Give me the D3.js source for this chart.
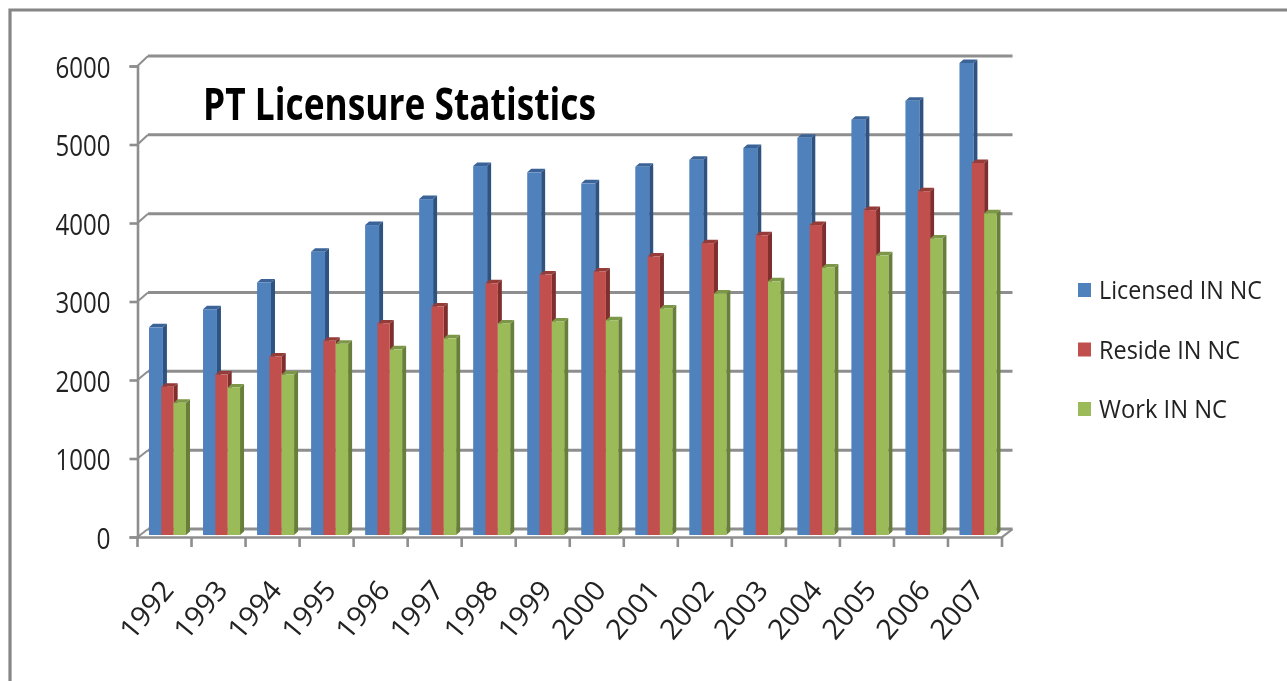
<!DOCTYPE html>
<html>
<head>
<meta charset="utf-8">
<style>
  html, body { margin: 0; padding: 0; background: #fff; overflow: hidden; }
  text { font-family: "Open Sans", sans-serif; fill: #222; }
</style>
<script src="https://cdn.jsdelivr.net/npm/d3@7"></script>
</head>
<body>
<script>
const WIDTH = 1287;
const HEIGHT = 681;

const anios = ["1992", "1993", "1994", "1995", "1996", "1997", "1998", "1999", "2000", "2001", "2002", "2003", "2004", "2005", "2006", "2007"];
const licensed = [2640, 2870, 3210, 3600, 3940, 4270, 4690, 4610, 4470, 4680, 4770, 4920, 5050, 5280, 5520, 6000];
const reside = [1885, 2040, 2270, 2470, 2690, 2905, 3200, 3310, 3350, 3540, 3710, 3810, 3940, 4130, 4370, 4730];
const work = [1680, 1875, 2040, 2430, 2360, 2500, 2690, 2715, 2730, 2880, 3070, 3225, 3400, 3555, 3770, 4090];
const serieNombres = ["Licensed IN NC", "Reside IN NC", "Work IN NC"];
const serieValores = [licensed, reside, work];
const colores = ["#4f81bd", "#c0504d", "#9bbb59"];
const coloresLado = ["#2f5381", "#7f2f2d", "#687f3a"];
const coloresTapa = ["#3a6398", "#953b39", "#7c9746"];
const ticksY = [0, 1000, 2000, 3000, 4000, 5000, 6000];

const SVG = d3
  .select("body")
  .append("svg")
  .attr("width", WIDTH)
  .attr("height", HEIGHT)
  .style("display", "block");

// el original viene reescalado y se ve algo borroso
SVG.append("filter")
  .attr("id", "borroso")
  .append("feGaussianBlur")
  .attr("stdDeviation", 0.6);

// marco gris del grafico
SVG.append("path")
  .attr("d", "M10,681V10H1287")
  .attr("fill", "none")
  .attr("stroke", "#868686")
  .attr("stroke-width", 3.2);

const x = d3.scaleBand().domain(anios).range([137.5, 1002]);
const xSerie = d3.scaleBand().domain(serieNombres).range([11.5, 48.5]);

const yFrente = d3.scaleLinear().domain([0, 6000]).range([537, 66]);
const yFondo = d3.scaleLinear().domain([0, 6000]).range([529, 56]);
const yBarra = d3.scaleLinear().domain([0, 6000]).range([535, 63]);

const PROF_X = 10.5; // profundidad de la caja
const PROF_BARRA_X = 4;
const PROF_BARRA_Y = 3.5;

const grafico = SVG.append("g").attr("filter", "url(#borroso)");
const textos = SVG.append("g").attr("filter", "url(#borroso)");

// lineas del fondo
const caja = grafico.append("g")
  .attr("stroke", "#8e8e8e")
  .attr("fill", "none");

caja.selectAll("line.fondo")
  .data(ticksY)
  .join("line")
  .attr("class", "fondo")
  .attr("x1", 137.5 + PROF_X)
  .attr("x2", 1002 + PROF_X)
  .attr("y1", (d) => yFondo(d))
  .attr("y2", (d) => yFondo(d))
  .attr("stroke-width", 3);

caja.selectAll("line.pared")
  .data(ticksY)
  .join("line")
  .attr("class", "pared")
  .attr("x1", 137.5)
  .attr("x2", 137.5 + PROF_X)
  .attr("y1", (d) => yFrente(d))
  .attr("y2", (d) => yFondo(d))
  .attr("stroke-width", 2);

caja.append("line")
  .attr("x1", 1002)
  .attr("x2", 1002 + PROF_X)
  .attr("y1", yFrente(0))
  .attr("y2", yFondo(0))
  .attr("stroke-width", 2.2);

// ejes del frente
const ejeY = grafico.append("g")
  .attr("transform", "translate(137.5,0)")
  .call(d3.axisLeft(yFrente).tickValues(ticksY).tickSize(8).tickPadding(19).tickFormat(d3.format("d")));

ejeY.selectAll("text")
  .attr("y", 2)
  .attr("font-size", 29)
  .attr("textLength", (d) => (d === 0 ? 14 : 55))
  .attr("lengthAdjust", "spacingAndGlyphs")
  .style("fill", "#222");

const ejeX = grafico.append("g")
  .attr("transform", `translate(0,${yFrente(0)})`)
  .call(d3.axisBottom(x).tickSize(0).tickFormat(""));

ejeX.selectAll("line.corte")
  .data(anios.concat("fin"))
  .join("line")
  .attr("class", "corte")
  .attr("x1", (d) => (d === "fin" ? x.range()[1] : x(d)))
  .attr("x2", (d) => (d === "fin" ? x.range()[1] : x(d)))
  .attr("y1", 0)
  .attr("y2", 10);

[ejeY, ejeX].forEach((eje) => {
  eje.selectAll("path, line")
    .attr("stroke", "#8e8e8e")
    .attr("stroke-width", 2.6);
});

// barras: frente, lado y tapa
const filas = anios.flatMap((anio, i) =>
  serieNombres.map((nombre, s) => ({ anio, nombre, s, valor: serieValores[s][i] }))
);

const barras = grafico.append("g")
  .selectAll("g")
  .data(filas)
  .join("g")
  .attr("transform", (d) => `translate(${x(d.anio) + xSerie(d.nombre)},0)`);

// la azul es un poco mas ancha que las otras dos
const ancho = (d) => xSerie.bandwidth() + (d.s === 0 ? 1.6 : 0);

barras.append("path")
  .attr("fill", (d) => coloresLado[d.s])
  .attr("d", (d) => `M${ancho(d)},${yBarra(d.valor)}l${PROF_BARRA_X},${-PROF_BARRA_Y}V${yBarra(0) - PROF_BARRA_Y}L${ancho(d)},${yBarra(0)}Z`);

barras.append("path")
  .attr("fill", (d) => coloresTapa[d.s])
  .attr("d", (d) => `M0,${yBarra(d.valor)}l${PROF_BARRA_X},${-PROF_BARRA_Y}h${ancho(d)}l${-PROF_BARRA_X},${PROF_BARRA_Y}Z`);

barras.append("rect")
  .attr("x", 0)
  .attr("width", ancho)
  .attr("y", (d) => yBarra(d.valor))
  .attr("height", (d) => yBarra(0) - yBarra(d.valor))
  .attr("fill", (d) => colores[d.s]);

// etiquetas de los anios
textos.append("g")
  .selectAll("text")
  .data(anios)
  .join("text")
  .attr("text-anchor", "middle")
  .attr("dominant-baseline", "central")
  .attr("font-size", 28)
  .attr("textLength", 66)
  .attr("lengthAdjust", "spacingAndGlyphs")
  .attr("transform", (d) => `translate(${x(d) + x.bandwidth() / 2 - 19},609) rotate(-50)`)
  .text((d) => d);

// titulo
textos.append("text")
  .attr("x", 203)
  .attr("y", 119.5)
  .attr("font-size", 44)
  .attr("font-weight", 700)
  .attr("textLength", 393)
  .attr("lengthAdjust", "spacingAndGlyphs")
  .style("fill", "#000")
  .text("PT Licensure Statistics");

// leyenda
const yLeyenda = d3.scalePoint().domain(serieNombres).range([290, 409]);
const anchoLeyenda = d3.scaleOrdinal().domain(serieNombres).range([163, 141, 128]);

const leyenda = textos.append("g")
  .selectAll("g")
  .data(serieNombres)
  .join("g")
  .attr("transform", (d) => `translate(1078,${yLeyenda(d)})`);

leyenda.append("rect")
  .attr("x", 0)
  .attr("y", -7)
  .attr("width", 13)
  .attr("height", 14)
  .attr("fill", (d, i) => colores[i]);

leyenda.append("text")
  .attr("x", 21)
  .attr("y", -1)
  .attr("dominant-baseline", "central")
  .attr("font-size", 26)
  .attr("textLength", (d) => anchoLeyenda(d))
  .attr("lengthAdjust", "spacingAndGlyphs")
  .text((d) => d);
</script>
</body>
</html>
